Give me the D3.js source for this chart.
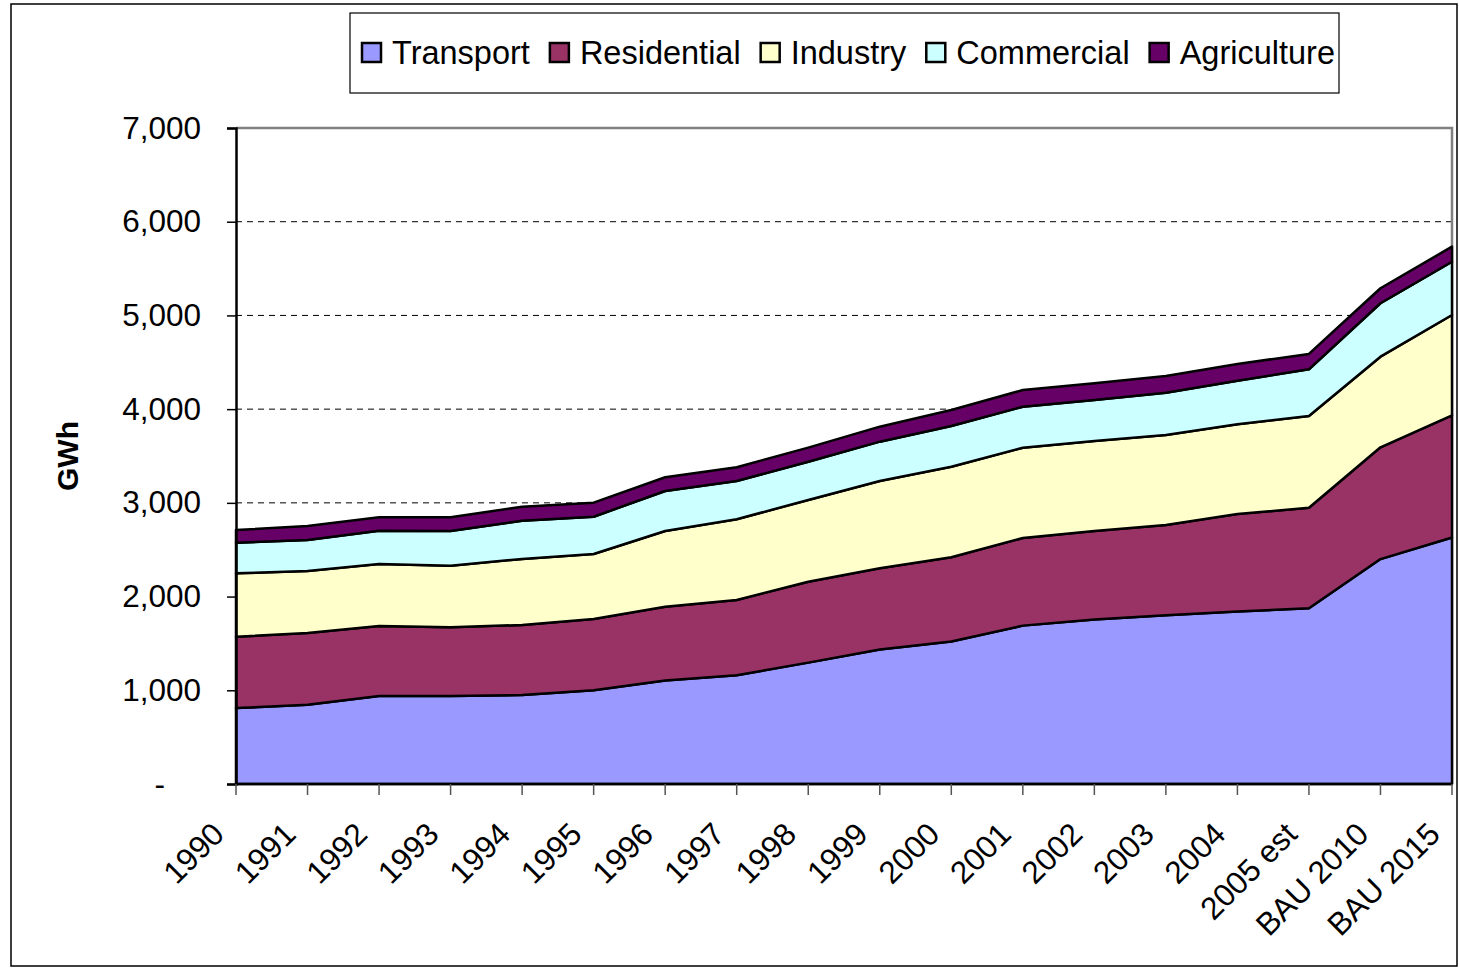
<!DOCTYPE html>
<html>
<head>
<meta charset="utf-8">
<script src="https://cdn.jsdelivr.net/npm/d3@7"></script>
<style>
  html, body { margin: 0; padding: 0; background: #fff; }
  svg { display: block; font-family: "Liberation Sans", Arial, sans-serif; }
</style>
</head>
<body>
<svg id="chart" width="1459" height="969"></svg>
<script>
// Energy use by sector, GWh
const categories = ["1990", "1991", "1992", "1993", "1994", "1995", "1996", "1997", "1998",
  "1999", "2000", "2001", "2002", "2003", "2004", "2005 est", "BAU 2010", "BAU 2015"];

const transport   = [810, 845, 940, 940, 950, 1000, 1105, 1160, 1295, 1435, 1520, 1690, 1755, 1800, 1840, 1875, 2400, 2630];
const residential = [762, 766, 746, 732, 747, 761, 787, 803, 864, 867, 899, 935, 945, 964, 1041, 1073, 1193, 1304];
const industry    = [676, 662, 662, 658, 704, 693, 808, 862, 872, 931, 967, 963, 960, 960, 957, 979, 967, 1071];
const commercial  = [327, 331, 355, 370, 409, 398, 427, 408, 408, 420, 434, 438, 438, 452, 466, 498, 570, 568];
const agriculture = [135, 149, 143, 146, 149, 150, 146, 147, 150, 160, 171, 178, 178, 178, 178, 164, 160, 161];

const seriesNames = ["Transport", "Residential", "Industry", "Commercial", "Agriculture"];
const seriesColors = ["#9999FF", "#993366", "#FFFFCC", "#CCFFFF", "#660066"];
const yTicks = [0, 1000, 2000, 3000, 4000, 5000, 6000, 7000];
const yLabel = "GWh";

const rows = categories.map((c, i) => ({
  category: c,
  Transport: transport[i],
  Residential: residential[i],
  Industry: industry[i],
  Commercial: commercial[i],
  Agriculture: agriculture[i]
}));

const svg = d3.select("#chart");
const plot = { left: 236, right: 1452, top: 128, bottom: 784 };
const fontSize = 31.5;
const legendFontSize = 32.5;

// outer chart border
svg.append("rect")
  .attr("x", 11).attr("y", 4)
  .attr("width", 1446).attr("height", 962)
  .attr("fill", "none").attr("stroke", "#000").attr("stroke-width", 1.5);

const x = d3.scalePoint().domain(categories).range([plot.left, plot.right]).padding(0);
const y = d3.scaleLinear().domain([0, 7000]).range([plot.bottom, plot.top]);

// dashed gridlines
svg.append("g")
  .selectAll("line")
  .data(yTicks.filter(t => t > 0 && t < 7000))
  .join("line")
  .attr("x1", plot.left).attr("x2", plot.right)
  .attr("y1", d => y(d)).attr("y2", d => y(d))
  .attr("stroke", "#000").attr("stroke-width", 1)
  .attr("stroke-dasharray", "6,5");

// plot area frame (top and right)
svg.append("path")
  .attr("d", `M${plot.left},${plot.top}H${plot.right}V${plot.bottom}`)
  .attr("fill", "none").attr("stroke", "#808080").attr("stroke-width", 2.5);

// stacked areas
const stack = d3.stack().keys(seriesNames);
const layers = stack(rows);
const area = d3.area()
  .x(d => x(d.data.category))
  .y0(d => y(d[0]))
  .y1(d => y(d[1]));

svg.append("g")
  .selectAll("path")
  .data(layers)
  .join("path")
  .attr("d", area)
  .attr("fill", (d, i) => seriesColors[i])
  .attr("stroke", "#000")
  .attr("stroke-width", 2.5)
  .attr("stroke-linejoin", "round");

// y axis
const yAxis = d3.axisLeft(y)
  .tickValues(yTicks)
  .tickSize(9)
  .tickPadding(26)
  .tickFormat(d => d === 0 ? "-" : d3.format(",")(d));
const yg = svg.append("g").attr("transform", `translate(${plot.left},0)`).call(yAxis);
yg.select(".domain").attr("stroke", "#000").attr("stroke-width", 2.5);
yg.selectAll(".tick line").attr("stroke", "#000").attr("stroke-width", 1.5);
yg.selectAll(".tick text")
  .attr("font-size", fontSize)
  .attr("fill", "#000")
  .attr("font-family", "Liberation Sans, Arial, sans-serif");
yg.selectAll(".tick").filter(d => d === 0).select("text").attr("dx", -36);

// x axis line and ticks
svg.append("line")
  .attr("x1", plot.left).attr("x2", plot.right)
  .attr("y1", plot.bottom).attr("y2", plot.bottom)
  .attr("stroke", "#000").attr("stroke-width", 2.5);

const xg = svg.append("g");
xg.selectAll("line")
  .data(categories)
  .join("line")
  .attr("x1", d => x(d)).attr("x2", d => x(d))
  .attr("y1", plot.bottom).attr("y2", plot.bottom + 11)
  .attr("stroke", "#555").attr("stroke-width", 1.5);

xg.selectAll("text")
  .data(categories)
  .join("text")
  .attr("transform", d => `translate(${x(d) - 10},${plot.bottom + 52}) rotate(-45)`)
  .attr("text-anchor", "end")
  .attr("font-size", fontSize)
  .attr("fill", "#000")
  .text(d => d);

// y axis title
svg.append("text")
  .attr("transform", "translate(78,456) rotate(-90)")
  .attr("text-anchor", "middle")
  .attr("font-size", 30)
  .attr("font-weight", "bold")
  .attr("fill", "#000")
  .text(yLabel);

// legend
const legend = svg.append("g");
legend.append("rect")
  .attr("x", 350).attr("y", 13)
  .attr("width", 989).attr("height", 80)
  .attr("fill", "#fff").attr("stroke", "#000").attr("stroke-width", 1.2);

let lx = 362;
seriesNames.forEach((name, i) => {
  legend.append("rect")
    .attr("x", lx).attr("y", 43)
    .attr("width", 19).attr("height", 19)
    .attr("fill", seriesColors[i])
    .attr("stroke", "#000").attr("stroke-width", 2.5);
  const t = legend.append("text")
    .attr("x", lx + 30).attr("y", 64)
    .attr("font-size", legendFontSize)
    .attr("fill", "#000")
    .text(name);
  lx += 30 + t.node().getComputedTextLength() + 20;
});
</script>
</body>
</html>
